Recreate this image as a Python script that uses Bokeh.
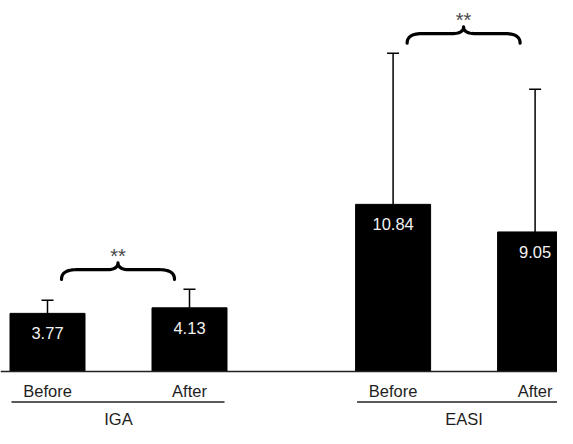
import numpy as np
from bokeh.plotting import figure
from bokeh.models import Range1d, Span
from bokeh.embed import file_html
from bokeh.resources import INLINE
from bokeh.core.properties import value

# ---- data ----
groups = ["IGA", "EASI"]
conditions = ["Before", "After"]
iga_mean = [3.77, 4.13]
easi_mean = [10.84, 9.05]
iga_sd = [0.85, 1.2]
easi_sd = [9.8, 9.25]
significance = ["**", "**"]

# ---- layout ----
W, H = 557, 428
ppu = 15.42                      # pixels per data unit
BASE = 371.0                     # pixel row of the zero line
Y1 = BASE / ppu
Y0 = -(H - BASE) / ppu
FIRST, GROUP_STEP, COND_STEP, BAR_W = 47.0, 345.6, 142.0, 75.0
FONT = value("Liberation Sans")
FS = "16.5px"
TXT = "#1e1e1e"

means = [iga_mean, easi_mean]
sds = [iga_sd, easi_sd]

xs, tops, errtops, vals, conds = [], [], [], [], []
for gi, g in enumerate(groups):
    for ci, c in enumerate(conditions):
        xs.append(FIRST + gi * GROUP_STEP + ci * COND_STEP)
        tops.append(means[gi][ci])
        errtops.append(means[gi][ci] + sds[gi][ci])
        vals.append(f"{means[gi][ci]:.2f}")
        conds.append(c)
xs = np.array(xs); tops = np.array(tops); errtops = np.array(errtops)

p = figure(width=W, height=H, x_range=Range1d(0, W), y_range=Range1d(Y0, Y1),
           output_backend="svg", toolbar_location=None,
           x_axis_type=None, y_axis_type=None, min_border=0)
p.grid.visible = False
p.outline_line_color = None
p.background_fill_color = "white"
p.border_fill_color = "white"

# bars
p.vbar(x=xs, top=tops, bottom=0, width=BAR_W, fill_color="black", line_color="black")

# error bars
p.segment(x0=xs, y0=tops, x1=xs, y1=errtops, line_color="black", line_width=1.5)
p.segment(x0=xs - 6, y0=errtops, x1=xs + 6, y1=errtops, line_color="black", line_width=1.5)

# baseline
p.add_layout(Span(location=0, dimension="width", line_color="#222222", line_width=1.5))

# value labels inside bars
p.text(x=xs, y=tops - 20 / ppu, text=vals, text_align="center", text_baseline="alphabetic",
       text_font=FONT, text_font_size=FS, text_color="#f2f2f2")

# condition labels
p.text(x=xs, y=np.full(len(xs), -19.5 / ppu), text=conds, text_align="center",
       text_baseline="alphabetic", text_font=FONT, text_font_size=FS, text_color=TXT)

# group underline + group names
for gi, g in enumerate(groups):
    xb, xa = xs[2 * gi], xs[2 * gi + 1]
    p.line([xb - 36, xa + 35], [-30.5 / ppu, -30.5 / ppu], line_color="#222222", line_width=1.5)
    p.text(x=[(xb + xa) / 2], y=[-47.5 / ppu], text=[g], text_align="center",
           text_baseline="alphabetic", text_font=FONT, text_font_size=FS, text_color=TXT)


def qbez(p0, c, p1, n=14):
    t = np.linspace(0, 1, n)
    x = (1 - t) ** 2 * p0[0] + 2 * (1 - t) * t * c[0] + t ** 2 * p1[0]
    y = (1 - t) ** 2 * p0[1] + 2 * (1 - t) * t * c[1] + t ** 2 * p1[1]
    return x, y


def brace(x0, x1, yend):
    xc = (x0 + x1) / 2
    ya = yend + 9.6 / ppu
    yt = ya + 6.8 / ppu
    r1, r2 = 15, 12
    ax, ay = qbez((x0, yend), (x0, ya), (x0 + r1, ya))
    bx, by = np.array([x0 + r1, xc - r2]), np.array([ya, ya])
    cx, cy = qbez((xc - r2, ya), (xc, ya), (xc, yt))
    lx = np.concatenate([ax, bx, cx]); ly = np.concatenate([ay, by, cy])
    rx = 2 * xc - lx[::-1]; ry = ly[::-1]
    return np.concatenate([lx, rx]), np.concatenate([ly, ry]), xc, yt


# significance braces
for gi, g in enumerate(groups):
    xb, xa = xs[2 * gi], xs[2 * gi + 1]
    yend = max(errtops[2 * gi], errtops[2 * gi + 1]) + 10 / ppu
    bx, by, xc, yt = brace(xb + 14, xa - 15, yend)
    p.line(bx, by, line_color="black", line_width=3.2, line_join="round", line_cap="round")
    p.text(x=[xc], y=[yt + 7 / ppu], text=[significance[gi]], text_align="center",
           text_baseline="alphabetic", text_font=FONT, text_font_size="20px", text_color="#4a4a4a")

open("out.html", "w").write(file_html(p, INLINE))
